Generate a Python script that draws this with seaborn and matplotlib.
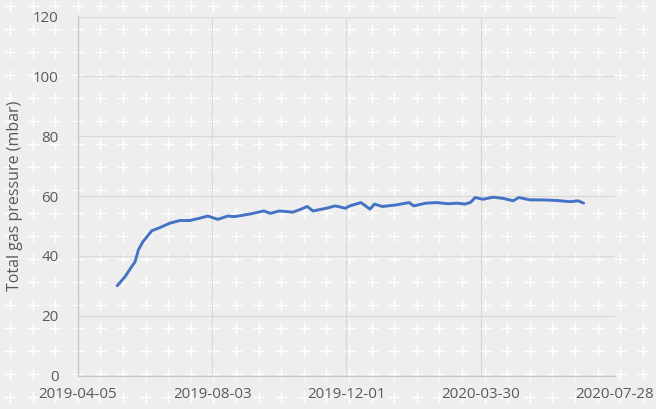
import numpy as np
import pandas as pd
import matplotlib
matplotlib.use("Agg")
import matplotlib.pyplot as plt
from matplotlib.lines import Line2D
import seaborn as sns

dates = ["2019-05-10", "2019-05-17", "2019-05-23", "2019-05-26", "2019-05-29",
         "2019-06-02", "2019-06-10", "2019-06-17", "2019-06-26", "2019-07-05",
         "2019-07-14", "2019-07-23", "2019-07-30", "2019-08-08", "2019-08-17",
         "2019-08-23", "2019-09-06", "2019-09-18", "2019-09-24", "2019-10-02",
         "2019-10-14", "2019-10-20", "2019-10-27", "2019-11-01", "2019-11-13",
         "2019-11-21", "2019-11-30", "2019-12-04", "2019-12-14", "2019-12-18",
         "2019-12-22", "2019-12-26", "2020-01-02", "2020-01-14", "2020-01-26",
         "2020-01-30", "2020-02-10", "2020-02-20", "2020-03-01", "2020-03-09",
         "2020-03-16", "2020-03-21", "2020-03-25", "2020-04-01", "2020-04-10",
         "2020-04-19", "2020-04-28", "2020-05-03", "2020-05-13", "2020-05-25",
         "2020-06-06", "2020-06-18", "2020-06-25", "2020-06-30"]
pressure = [30.0, 33.0, 36.4, 38.0, 42.0,
            44.7, 48.4, 49.4, 50.9, 51.8,
            51.8, 52.6, 53.3, 52.2, 53.3,
            53.1, 54.0, 55.0, 54.2, 55.0,
            54.6, 55.4, 56.5, 55.0, 55.9,
            56.7, 55.9, 56.7, 57.8, 56.7,
            55.6, 57.3, 56.5, 57.0, 57.8,
            56.7, 57.6, 57.8, 57.4, 57.6,
            57.3, 57.9, 59.5, 58.9, 59.6,
            59.2, 58.4, 59.5, 58.7, 58.7,
            58.5, 58.1, 58.4, 57.6]
x_ticks = ["2019-04-05", "2019-08-03", "2019-12-01", "2020-03-30", "2020-07-28"]
y_ticks = [0, 20, 40, 60, 80, 100, 120]

df = pd.DataFrame({"date": pd.to_datetime(dates), "pressure": pressure})

sns.set_theme(style="white")
plt.rcParams["font.family"] = ["Open Sans", "DejaVu Sans"]

bg = "#eeeeee"
fig = plt.figure(figsize=(6.56, 4.09), dpi=100, facecolor=bg)

# background plus pattern
xs = np.arange(10, 660, 22.6) / 656
ys = 1 - np.arange(6, 420, 23.0) / 409
gx, gy = np.meshgrid(xs, ys)
fig.add_artist(Line2D(gx.ravel(), gy.ravel(), transform=fig.transFigure,
                      linestyle="none", marker="+", markersize=8.5,
                      markeredgewidth=1.0, color="white", zorder=0))

ax = fig.add_axes([78 / 656, 1 - 375.5 / 409, (615 - 78) / 656, (375.5 - 16.5) / 409])
ax.set_facecolor("none")
ax.set_zorder(1)

sns.lineplot(data=df, x="date", y="pressure", ax=ax, color="#4472c4", linewidth=2.1)

xt = pd.to_datetime(x_ticks)
ax.set_xlim(xt[0], xt[-1])
ax.set_ylim(0, 120)
ax.set_xticks(xt)
ax.set_xticklabels(x_ticks)
ax.set_yticks(y_ticks)
ax.grid(True, color="#d9d9d9", linewidth=0.9)
ax.tick_params(axis="both", length=0, colors="#595959", labelsize=10.8)
ax.tick_params(axis="x", pad=8)
ax.tick_params(axis="y", pad=14)
ax.set_xlabel("")
ax.set_ylabel("Total gas pressure (mbar)", color="#595959", fontsize=11.5, labelpad=7)
for s in ["top", "right"]:
    ax.spines[s].set_visible(False)
for s in ["left", "bottom"]:
    ax.spines[s].set_color("#c8c8c8")
    ax.spines[s].set_linewidth(1.0)

fig.savefig("out.png", dpi=100, facecolor=bg)
